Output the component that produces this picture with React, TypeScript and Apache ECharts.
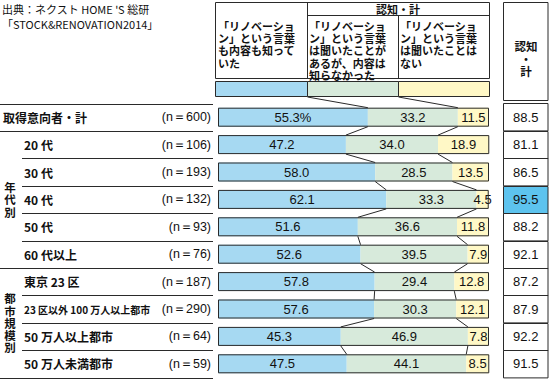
import React, { useEffect, useRef } from "react";
import * as echarts from "echarts";

const categories = [
  "取得意向者・計",
  "20 代",
  "30 代",
  "40 代",
  "50 代",
  "60 代以上",
  "東京 23 区",
  "23 区以外 100 万人以上都市",
  "50 万人以上都市",
  "50 万人未満都市",
];
const sampleSizes = [600, 106, 193, 132, 93, 76, 187, 290, 64, 59];
const knewBoth = [55.3, 47.2, 58.0, 62.1, 51.6, 52.6, 57.8, 57.6, 45.3, 47.5];
const heardOnly = [33.2, 34.0, 28.5, 33.3, 36.6, 39.5, 29.4, 30.3, 46.9, 44.1];
const neverHeard = [11.5, 18.9, 13.5, 4.5, 11.8, 7.9, 12.8, 12.1, 7.8, 8.5];
const awarenessTotal = [88.5, 81.1, 86.5, 95.5, 88.2, 92.1, 87.2, 87.9, 92.2, 91.5];

const sourceLines = ["出典：ネクスト HOME 'S 総研", "「STOCK&RENOVATION2014」"];
const headerCols = [
  "「リノベーショ\nン」という言葉\nも内容も知って\nいた",
  "「リノベーショ\nン」という言葉\nは聞いたことが\nあるが、内容は\n知らなかった",
  "「リノベーショ\nン」という言葉\nは聞いたことは\nない",
];
const headerSpan = "認知・計";
const totalHeader = ["認知", "・", "計"];
const groupLabels = [["年", "代", "別"], ["都", "市", "規", "模", "別"]];

const BLUE = "#a6d9f2";
const GREEN = "#d7eadb";
const YELLOW = "#fff8c6";
const HIGHLIGHT = "#5dc3ee";
const LINE = "#2a2a2a";
const JP = '"Noto Sans CJK JP", "Noto Sans", sans-serif';
const NUM = '"Liberation Sans", Arial, sans-serif';

const GRID_TOP = 103.5;
const GRID_H = 274;
const PITCH = GRID_H / categories.length;
const BAR_H = 19;
const SWATCH_BOTTOM = 97;
const SWATCH_X = [307, 398];

export default function App() {
  const ref = useRef<HTMLDivElement>(null);
  useEffect(() => {
    if (!ref.current) return;
    const chart = echarts.init(ref.current, null, { renderer: "svg" });
    const maxTotal = Math.max(...awarenessTotal);

    const center = { textAlign: "center", align: "center", textVerticalAlign: "middle", verticalAlign: "middle" };
    const graphics: any[] = [];
    sourceLines.forEach((t, i) => {
      graphics.push({
        type: "text",
        x: 2,
        y: 9 + i * 15,
        style: { text: t, font: `11px ${JP}`, fill: "#111", textVerticalAlign: "middle", verticalAlign: "middle" },
      });
    });
    // header box
    graphics.push({ type: "rect", shape: { x: 215.5, y: 2.5, width: 274, height: 76 }, style: { fill: "#fff", stroke: LINE, lineWidth: 1 } });
    graphics.push({ type: "line", shape: { x1: 307.5, y1: 2.5, x2: 307.5, y2: 78.5 }, style: { stroke: LINE, lineWidth: 1 } });
    graphics.push({ type: "line", shape: { x1: 307.5, y1: 15.5, x2: 489.5, y2: 15.5 }, style: { stroke: LINE, lineWidth: 1 } });
    graphics.push({ type: "line", shape: { x1: 398.5, y1: 15.5, x2: 398.5, y2: 78.5 }, style: { stroke: LINE, lineWidth: 1 } });
    graphics.push({
      type: "text", x: 398, y: 9,
      style: { text: headerSpan, font: `bold 11px ${JP}`, fill: "#111", ...center },
    });
    const colX = [218, 309, 400];
    headerCols.forEach((t, i) => {
      graphics.push({
        type: "text", x: colX[i], y: 19.5,
        style: { text: t, font: `bold 11px ${JP}`, lineHeight: 12.3, fill: "#111", textVerticalAlign: "top", verticalAlign: "top" },
      });
    });
    // swatches
    const swX = [215.5, 307.5, 398.5, 489.5];
    [BLUE, GREEN, YELLOW].forEach((c, i) => {
      graphics.push({ type: "rect", shape: { x: swX[i], y: 81.5, width: swX[i + 1] - swX[i], height: 15 }, style: { fill: c, stroke: LINE, lineWidth: 1 } });
    });
    // right header
    graphics.push({ type: "rect", shape: { x: 503.5, y: 2.5, width: 44.5, height: 98 }, style: { fill: "#fff", stroke: LINE, lineWidth: 1 } });
    totalHeader.forEach((t, j) => {
      graphics.push({
        type: "text", x: 526, y: 46 + j * 12.5,
        style: { text: t, font: `bold 11.5px ${JP}`, fill: "#111", ...center },
      });
    });
    // left separators
    for (let k = 0; k <= categories.length; k++) {
      const y = Math.round(GRID_TOP + PITCH * k) + 0.5;
      const full = k <= 1 || k === 6 || k === categories.length;
      graphics.push({ type: "line", shape: { x1: full ? 0 : 22, y1: y, x2: 213, y2: y }, style: { stroke: LINE, lineWidth: 1 } });
    }
    // group labels (stacked vertical characters)
    const groupCenters = [GRID_TOP + PITCH * 3.5, GRID_TOP + PITCH * 8];
    groupLabels.forEach((chars, g) => {
      const step = 12.2;
      const start = groupCenters[g] - ((chars.length - 1) * step) / 2;
      chars.forEach((ch, j) => {
        graphics.push({
          type: "text", x: 10, y: start + j * step,
          style: { text: ch, font: `bold 11.5px ${JP}`, fill: "#111", ...center },
        });
      });
    });

    const labelStyle = { show: true, position: "inside", color: "#111", fontSize: 13, fontFamily: NUM };
    const rowSums = knewBoth.map((v, i) => +(v + heardOnly[i] + neverHeard[i]).toFixed(1));

    const option: any = {
      animation: false,
      backgroundColor: "#fff",
      grid: [
        { left: 217, width: 272, top: GRID_TOP, height: GRID_H },
        { left: 503.5, width: 44.5, top: GRID_TOP, height: GRID_H },
      ],
      xAxis: [
        { type: "value", gridIndex: 0, min: 0, max: 100, show: false },
        { type: "value", gridIndex: 1, min: 0, max: 1, show: false },
      ],
      yAxis: [
        {
          type: "category",
          gridIndex: 0,
          inverse: true,
          data: categories,
          axisLine: { show: false },
          axisTick: { show: false },
          splitLine: { show: false },
          axisLabel: {
            margin: 7,
            align: "right",
            formatter: (v: string, i: number) => {
              const nm = i === 0 ? "t" : i === 7 ? "s" : "a";
              return `{${nm}|${v}}{n|(n＝${sampleSizes[i]})}`;
            },
            rich: {
              t: { width: 152, align: "left", fontFamily: JP, fontWeight: "bold", fontSize: 12, color: "#111" },
              a: { width: 131, align: "left", fontFamily: JP, fontWeight: "bold", fontSize: 12, color: "#111" },
              s: { width: 131, align: "left", fontFamily: JP, fontWeight: "bold", fontSize: 10, color: "#111" },
              n: { width: 56, align: "right", fontFamily: NUM, fontSize: 12.5, color: "#111" },
            },
          },
        },
        { type: "category", gridIndex: 1, inverse: true, data: categories, show: false },
      ],
      series: [
        {
          type: "bar", stack: "a", barWidth: BAR_H, data: knewBoth,
          itemStyle: { color: BLUE },
          label: { ...labelStyle, formatter: (p: any) => (p.dataIndex === 0 ? `${p.value.toFixed(1)}%` : p.value.toFixed(1)) },
        },
        {
          type: "bar", stack: "a", barWidth: BAR_H, data: heardOnly,
          itemStyle: { color: GREEN },
          label: { ...labelStyle, formatter: (p: any) => p.value.toFixed(1) },
        },
        {
          type: "bar", stack: "a", barWidth: BAR_H, data: neverHeard,
          itemStyle: { color: YELLOW },
          label: { ...labelStyle, formatter: (p: any) => p.value.toFixed(1) },
        },
        {
          type: "bar", barWidth: BAR_H, barGap: "-100%", data: rowSums, z: 3,
          itemStyle: { color: "rgba(0,0,0,0)", borderColor: LINE, borderWidth: 1 },
          silent: true,
        },
        {
          type: "custom",
          xAxisIndex: 0, yAxisIndex: 0,
          z: 4,
          clip: false,
          data: knewBoth.map((k, i) => [k, heardOnly[i], i]),
          encode: { x: 0, y: 2 },
          renderItem: (params: any, api: any) => {
            const i = api.value(2);
            const c1 = api.value(0);
            const c2 = c1 + api.value(1);
            const p1 = api.coord([c1, i]);
            const p2 = api.coord([c2, i]);
            const top = p1[1] - BAR_H / 2;
            let fx1: number, fx2: number, fromY: number;
            if (i === 0) {
              fx1 = SWATCH_X[0] + 0.5;
              fx2 = SWATCH_X[1] + 0.5;
              fromY = SWATCH_BOTTOM;
            } else {
              const q1 = api.coord([knewBoth[i - 1], i - 1]);
              const q2 = api.coord([knewBoth[i - 1] + heardOnly[i - 1], i - 1]);
              fx1 = q1[0];
              fx2 = q2[0];
              fromY = q1[1] + BAR_H / 2;
            }
            return {
              type: "group",
              children: [
                { type: "line", shape: { x1: fx1, y1: fromY, x2: p1[0], y2: top }, style: { stroke: LINE, lineWidth: 1 } },
                { type: "line", shape: { x1: fx2, y1: fromY, x2: p2[0], y2: top }, style: { stroke: LINE, lineWidth: 1 } },
              ],
            };
          },
        },
        {
          type: "custom",
          xAxisIndex: 1, yAxisIndex: 1,
          data: awarenessTotal.map((v, i) => [v, i]),
          encode: { x: 0, y: 1 },
          renderItem: (params: any, api: any) => {
            const i = api.value(1);
            const v = api.value(0);
            const c = api.coord([0, i]);
            const h = api.size([0, 1])[1];
            const cs = params.coordSys;
            return {
              type: "group",
              children: [
                {
                  type: "rect",
                  shape: { x: cs.x, y: Math.round(c[1] - h / 2) + 0.5, width: cs.width, height: h },
                  style: { fill: v === maxTotal ? HIGHLIGHT : "#fff", stroke: LINE, lineWidth: 1 },
                },
                {
                  type: "text",
                  x: cs.x + cs.width / 2,
                  y: c[1],
                  style: { text: v.toFixed(1), font: `13px ${NUM}`, fill: "#111", ...center },
                },
              ],
            };
          },
        },
      ],
      graphic: graphics,
    };
    chart.setOption(option);
    return () => chart.dispose();
  }, []);
  return <div ref={ref} style={{ position: "fixed", left: 0, top: 0, width: 550, height: 384 }} />;
}
